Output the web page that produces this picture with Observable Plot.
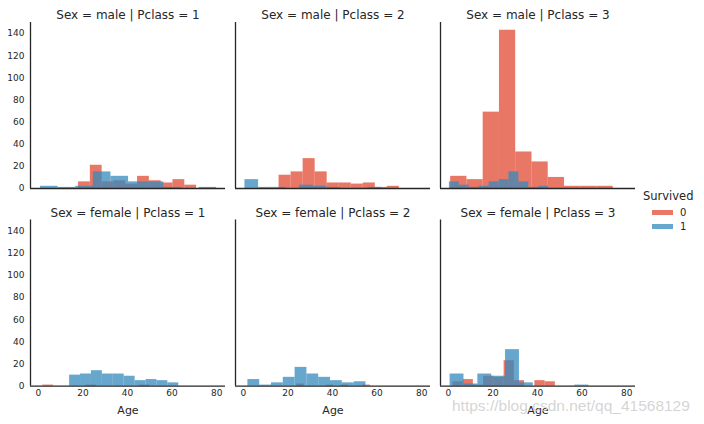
<!DOCTYPE html>
<html>
<head>
<meta charset="utf-8">
<script src="https://cdn.jsdelivr.net/npm/d3@7"></script>
<script src="https://cdn.jsdelivr.net/npm/@observablehq/plot@0.6"></script>
<style>
  html, body { margin: 0; padding: 0; background: #fff; }
  #wrap { position: relative; width: 704px; height: 424px; overflow: hidden; font-family: "DejaVu Sans", sans-serif; color: #262626; }
  #wrap svg { position: absolute; background: transparent; overflow: visible; }
  .leg { position: absolute; font-family: "DejaVu Sans", sans-serif; color: #262626; white-space: nowrap; }
  .sw { position: absolute; width: 21px; height: 5px; }
  #wm { position: absolute; left: 452px; top: 397px; font-family: "Liberation Sans", Arial, sans-serif; font-size: 15.5px; color: rgba(205,205,205,0.85); white-space: nowrap; }
</style>
</head>
<body>
<div id="wrap"></div>
<script>
// ---- data (10 equal-width bins per group, per panel) ----
const sexes = ["male", "female"];
const pclasses = [1, 2, 3];
const survivedLevels = [0, 1];
const colors = ["#E24A33", "#348ABD"];

// [min age, max age] of each group's histogram, Pclass 1..3
const maleDiedRanges = [[18, 71], [16, 70], [1, 74]];
const maleDiedCounts = [
  [6, 21, 6, 7, 4, 11, 7, 5, 8, 3],
  [12, 15, 27, 15, 5, 5, 4, 5, 1, 2],
  [11, 8, 69, 143, 33, 24, 10, 2, 2, 2]
];
const maleSurvivedRanges = [[0.92, 80], [0.67, 62], [0.42, 45]];
const maleSurvivedCounts = [
  [2, 1, 2, 15, 11, 6, 6, 1, 0, 1],
  [8, 1, 1, 0, 3, 2, 1, 0, 0, 1],
  [6, 3, 1, 2, 6, 8, 15, 6, 1, 2]
];
const femaleDiedRanges = [[2, 50], [24, 57], [2, 48]];
const femaleDiedCounts = [
  [1, 0, 0, 0, 1, 0, 0, 0, 0, 1],
  [2, 0, 0, 0, 1, 0, 1, 0, 0, 1],
  [4, 6, 1, 9, 8, 23, 5, 0, 5, 4]
];
const femaleSurvivedRanges = [[14, 63], [2, 55], [0.75, 63]];
const femaleSurvivedCounts = [
  [10, 11, 14, 11, 11, 9, 5, 6, 5, 3],
  [6, 1, 3, 8, 17, 11, 8, 5, 3, 4],
  [11, 2, 11, 9, 33, 3, 0, 0, 0, 1]
];

const xTicks = [0, 20, 40, 60, 80];
const yTicks = [0, 20, 40, 60, 80, 100, 120, 140];
const xDomain = [-3.56, 83.98];
const yDomain = [0, 150];
const legendTitle = "Survived";
const xLabel = "Age";

// ---- build bins ----
function bins(range, counts) {
  const [lo, hi] = range;
  const w = (hi - lo) / counts.length;
  return counts.map((c, i) => ({x1: lo + i * w, x2: lo + (i + 1) * w, count: c}));
}
const groups = {
  male: [[maleDiedRanges, maleDiedCounts], [maleSurvivedRanges, maleSurvivedCounts]],
  female: [[femaleDiedRanges, femaleDiedCounts], [femaleSurvivedRanges, femaleSurvivedCounts]]
};

const wrap = document.getElementById("wrap");
const ink = "#262626";

sexes.forEach((sex, r) => {
  pclasses.forEach((pc, c) => {
    const top = r === 0;
    const marks = [];
    survivedLevels.forEach((s, k) => {
      const [ranges, counts] = groups[sex][k];
      marks.push(Plot.rectY(bins(ranges[c], counts[c]), {
        x1: "x1", x2: "x2", y: "count", fill: colors[k], fillOpacity: 0.75
      }));
    });
    marks.push(Plot.ruleX([xDomain[0]], {stroke: ink, strokeWidth: 1.3}));
    marks.push(Plot.ruleY([yDomain[0]], {stroke: ink, strokeWidth: 1.3}));
    marks.push(Plot.text([`Sex = ${sex} | Pclass = ${pc}`], {
      frameAnchor: "top", dy: -12, fontSize: 12, fill: ink
    }));
    if (!top) {
      marks.push(Plot.text([xLabel], {frameAnchor: "bottom", dy: 28, fontSize: 11, fill: ink}));
    }
    const svg = Plot.plot({
      width: 225,
      height: top ? 200 : 227,
      marginLeft: 30,
      marginRight: 0,
      marginTop: top ? 22 : 22.5,
      marginBottom: top ? 12 : 38.3,
      style: {background: "transparent", fontFamily: "DejaVu Sans, sans-serif", fontSize: "9px", color: ink, overflow: "visible"},
      x: {domain: xDomain, ticks: xTicks, tickSize: 0, tickPadding: 3, label: null, axis: top ? null : "bottom"},
      y: {domain: yDomain, ticks: yTicks, tickSize: 0, tickPadding: 6, label: null, axis: c === 0 ? "left" : null},
      marks
    });
    svg.style.left = (c * 205) + "px";
    svg.style.top = (top ? 0 : 197) + "px";
    wrap.appendChild(svg);
  });
});

// ---- legend ----
function addDiv(cls, text, css) {
  const d = document.createElement("div");
  d.className = cls;
  if (text !== null) d.textContent = text;
  Object.assign(d.style, css);
  wrap.appendChild(d);
  return d;
}
addDiv("leg", legendTitle, {left: "643px", top: "189px", fontSize: "11.5px"});
survivedLevels.forEach((s, k) => {
  addDiv("sw", null, {left: "652px", top: (210 + k * 14) + "px", background: colors[k], opacity: 0.75});
  addDiv("leg", String(s), {left: "680px", top: (207 + k * 14) + "px", fontSize: "10px"});
});
const wm = document.createElement("div");
wm.id = "wm";
wm.textContent = "https://blog.csdn.net/qq_41568129";
wrap.appendChild(wm);
</script>
</body>
</html>
